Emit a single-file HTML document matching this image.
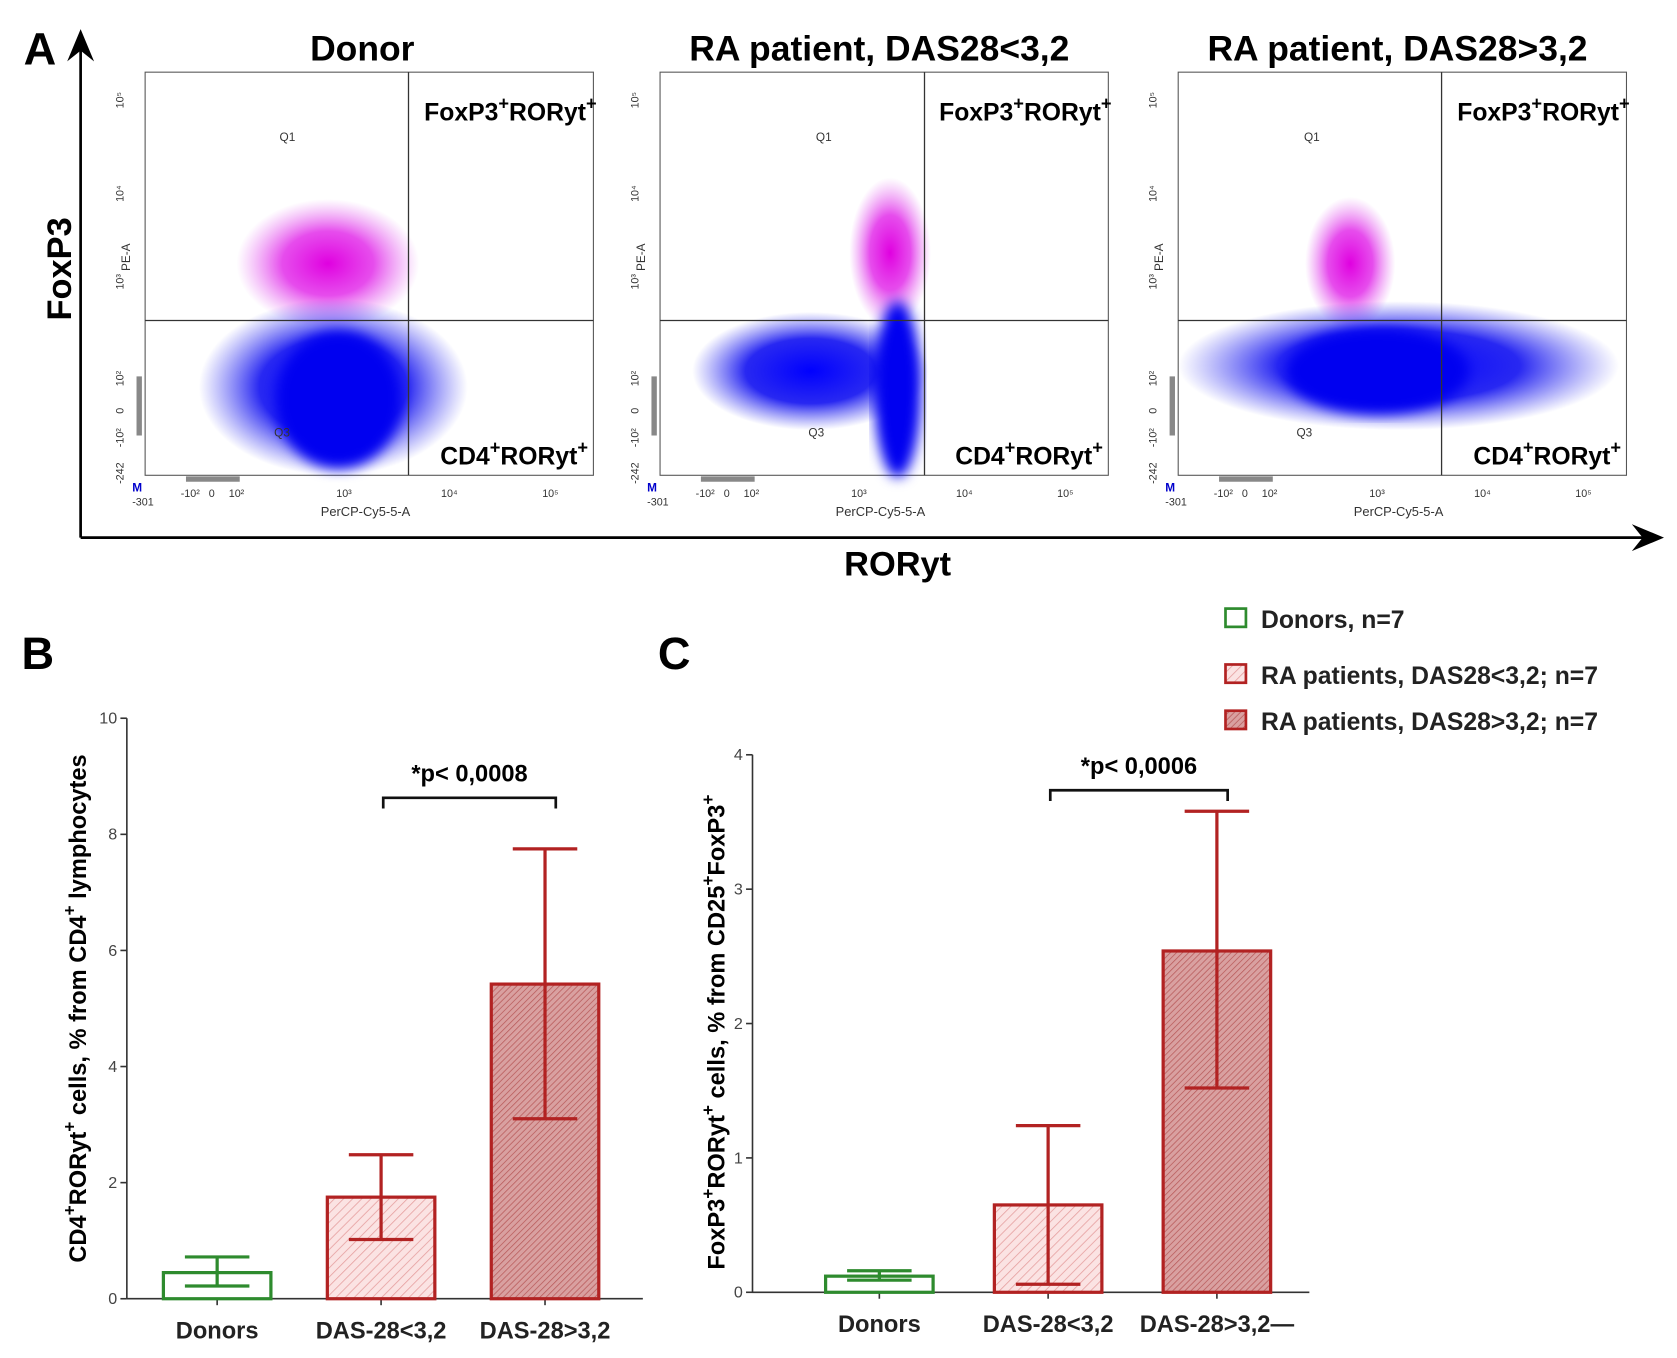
<!DOCTYPE html>
<html><head><meta charset="utf-8"><style>
html,body{margin:0;padding:0;background:#fff;}
svg{display:block;font-family:"Liberation Sans",Arial,sans-serif;}
.b{font-weight:bold;}
</style></head><body>
<svg id="fig" width="1677" height="1358" viewBox="0 0 1560 1263" xmlns="http://www.w3.org/2000/svg">
<defs>
<pattern id="hatchL" width="6" height="6" patternUnits="userSpaceOnUse" patternTransform="rotate(45)"><rect width="6" height="6" fill="#fbe3e3"/><line x1="0" y1="0" x2="0" y2="6" stroke="#e6a0a0" stroke-width="1.5"/></pattern>
<pattern id="hatchD" width="4" height="4" patternUnits="userSpaceOnUse" patternTransform="rotate(45)"><rect width="4" height="4" fill="#d9a0a0"/><line x1="0" y1="0" x2="0" y2="4" stroke="#b85a5a" stroke-width="1.4"/></pattern>
<radialGradient id="gBlue"><stop offset="0" stop-color="#0000ff" stop-opacity="1"/><stop offset="0.55" stop-color="#1010f0" stop-opacity="0.9"/><stop offset="1" stop-color="#3a3af0" stop-opacity="0"/></radialGradient>
<radialGradient id="gMag"><stop offset="0" stop-color="#e000e0" stop-opacity="1"/><stop offset="0.5" stop-color="#e020e8" stop-opacity="0.8"/><stop offset="1" stop-color="#e060f0" stop-opacity="0"/></radialGradient>
<filter id="soft"><feGaussianBlur stdDeviation="6"/></filter>
<marker id="arr" markerWidth="12" markerHeight="10" refX="10" refY="5" orient="auto"><path d="M0,0 L12,5 L0,10 L4,5 Z" fill="#000"/></marker>
</defs>

<text class="b" x="22" y="60" font-size="42">A</text>
<line x1="75" y1="500" x2="75" y2="32" stroke="#000" stroke-width="2.5" marker-end="url(#arr)"/>
<line x1="75" y1="500" x2="1543" y2="500" stroke="#000" stroke-width="2.5" marker-end="url(#arr)"/>
<text class="b" font-size="32" transform="translate(66,250) rotate(-90)" text-anchor="middle">FoxP3</text>
<text class="b" x="835" y="535" font-size="32" text-anchor="middle">RORyt</text>
<g id="flow"></g>

<text class="b" x="20" y="622" font-size="42">B</text>
<g id="chartB"></g>
<text class="b" x="612" y="622" font-size="42">C</text>
<g id="chartC"></g>

<g>
<rect x="1140" y="566" width="19" height="17" fill="#fff" stroke="#2e8b2e" stroke-width="2.5"/>
<text x="1173" y="584" font-size="23" class="b" fill="#222">Donors, n=7</text>
<rect x="1140" y="618" width="19" height="17" fill="url(#hatchL)" stroke="#b22222" stroke-width="2.5"/>
<text x="1173" y="636" font-size="23" class="b" fill="#222">RA patients, DAS28&lt;3,2; n=7</text>
<rect x="1140" y="661" width="19" height="17" fill="url(#hatchD)" stroke="#b22222" stroke-width="2.5"/>
<text x="1173" y="679" font-size="23" class="b" fill="#222">RA patients, DAS28&gt;3,2; n=7</text>
</g>

<script>
const NS="http://www.w3.org/2000/svg";
function mk(p,t,a,txt){const e=document.createElementNS(NS,t);for(const k in a)e.setAttribute(k,a[k]);if(txt!==undefined)e.textContent=txt;p.appendChild(e);return e;}
// parts: array of [string, isSup]
function rich(el,parts,sup){let up=false;parts.forEach(([s,isSup])=>{const a={};if(isSup&&!up){a.dy=-sup*0.6;a['font-size']=sup;up=true;}else if(!isSup&&up){a.dy=sup*0.6;up=false;}else if(isSup){a['font-size']=sup;}mk(el,'tspan',a,s);});}

const flowTitles=["Donor","RA patient, DAS28<3,2","RA patient, DAS28>3,2"];
const flowLeft=[135,614,1096];
const gateX=[380,860,1341];
const magClouds=[[170,245,85,60],[214,235,38,70],[160,245,42,62]];
const blueWide=[[175,360,125,82],[140,345,110,55],[205,340,205,60]];
const blueCore=[[180,372,58,64],[221,362,22,82],[185,345,85,40]];
const flow=document.getElementById('flow');
for(let i=0;i<3;i++){
  const L=flowLeft[i], g=mk(flow,'g',{});
  
  
  const t=mk(g,'text',{x:L+(i==0?202:204),y:56,'font-size':33,'text-anchor':'middle','class':'b'},flowTitles[i]);
  
  
  mk(g,'rect',{x:L,y:67,width:417,height:375,fill:'#fff',stroke:'#555','stroke-width':1});
  const m=magClouds[i],w=blueWide[i],c=blueCore[i];
  mk(g,'ellipse',{cx:L+m[0],cy:m[1],rx:m[2],ry:m[3],fill:'url(#gMag)'});
  mk(g,'ellipse',{cx:L+w[0],cy:w[1],rx:w[2],ry:w[3],fill:'url(#gBlue)'});
  mk(g,'ellipse',{cx:L+c[0],cy:c[1],rx:c[2],ry:c[3],fill:'#0000f0',filter:'url(#soft)'});
  mk(g,'line',{x1:L,y1:298,x2:L+417,y2:298,stroke:'#333','stroke-width':1.2});
  mk(g,'line',{x1:gateX[i],y1:67,x2:gateX[i],y2:442,stroke:'#333','stroke-width':1.2});
  mk(g,'text',{x:L+(i==0?125:(i==1?145:117)),y:131,'font-size':11,fill:'#333'},'Q1');
  mk(g,'text',{x:L+(i==0?120:(i==1?138:110)),y:406,'font-size':11,fill:'#333'},'Q3');
  const lab1=mk(g,'text',{x:L+420,y:112,'font-size':23,'text-anchor':'end','class':'b'});
  rich(lab1,[['FoxP3',0],['+',1],['RORyt',0],['+',1]],17);
  
  
  const lab2=mk(g,'text',{x:L+412,y:432,'font-size':23,'text-anchor':'end','class':'b'});
  rich(lab2,[['CD4',0],['+',1],['RORyt',0],['+',1]],17);
  
  
  mk(g,'text',{'font-size':11,fill:'#333',transform:`translate(${L-14},252) rotate(-90)`},'PE-A');
  [['10⁵',93],['10⁴',180],['10³',262],['10²',352],['0',382],['-10²',407],['-242',440]].forEach(([s,y])=>mk(g,'text',{'font-size':10,fill:'#333',transform:`translate(${L-20},${y}) rotate(-90)`,'text-anchor':'middle'},s));
  mk(g,'text',{x:L-12,y:457,'font-size':11,fill:'#00c','class':'b'},'M');
  mk(g,'text',{x:L-12,y:470,'font-size':10,fill:'#333'},'-301');
  [['-10²',42],['0',62],['10²',85],['10³',185],['10⁴',283],['10⁵',377]].forEach(([s,x])=>mk(g,'text',{x:L+x,y:462,'font-size':10,fill:'#333','text-anchor':'middle'},s));
  mk(g,'rect',{x:L+38,y:443,width:50,height:5,fill:'#888'});
  mk(g,'rect',{x:L-8,y:350,width:5,height:55,fill:'#888'});
  mk(g,'text',{x:L+205,y:480,'font-size':12,fill:'#333','text-anchor':'middle'},'PerCP-Cy5-5-A');
}

const categories=["Donors","DAS-28<3,2","DAS-28>3,2"];
const meansB=[0.45,1.75,5.42];
const lowB=[0.22,1.02,3.1];
const highB=[0.72,2.48,7.75];
const ticksB=[0,2,4,6,8,10];
const meansC=[0.12,0.65,2.54];
const lowC=[0.09,0.06,1.52];
const highC=[0.16,1.24,3.58];
const ticksC=[0,1,2,3,4];
const fills=['#fff','url(#hatchL)','url(#hatchD)'];
const strokes=['#2e8b2e','#b22222','#b22222'];

function barChart(gid,o){
  const g=document.getElementById(gid);
  const y=v=>o.y0-(v-o.min)/(o.max-o.min)*(o.y0-o.y1);
  const xs=i=>o.x0+o.first+i*o.step;
  mk(g,'line',{x1:o.x0,y1:o.y1,x2:o.x0,y2:o.y0,stroke:'#333','stroke-width':1.5});
  mk(g,'line',{x1:o.x0,y1:o.y0,x2:o.xEnd,y2:o.y0,stroke:'#333','stroke-width':1.5});
  o.ticks.forEach(t=>{
    mk(g,'line',{x1:o.x0-6,y1:y(t),x2:o.x0,y2:y(t),stroke:'#333','stroke-width':1.5});
    const tl=mk(g,'text',{x:o.x0-9,y:y(t)+5,'font-size':15,fill:'#444','text-anchor':'end'},String(t));
    
    
  });
  for(let i=0;i<3;i++){
    const cx=xs(i);
    mk(g,'line',{x1:cx,y1:o.y0,x2:cx,y2:o.y0+6,stroke:'#333','stroke-width':1.5});
    const bar=mk(g,'rect',{x:cx-50,y:y(o.means[i]),width:100,height:y(0)-y(o.means[i]),fill:fills[i],stroke:strokes[i],'stroke-width':3});
    
    
    const eb=mk(g,'path',{d:`M${cx},${y(o.low[i])}V${y(o.high[i])}M${cx-30},${y(o.high[i])}H${cx+30}M${cx-30},${y(o.low[i])}H${cx+30}`,stroke:strokes[i],'stroke-width':3,fill:'none'});
    
    
    const cl=mk(g,'text',{x:cx,y:o.y0+37,'font-size':22,'text-anchor':'middle','class':'b',fill:'#222'},categories[i]+(o.dash&&i==2?'—':''));
    
    
  }
  const bx1=xs(1)+2,bx2=xs(2)+10;
  const br=mk(g,'path',{d:`M${bx1},${o.brY+10}V${o.brY}H${bx2}V${o.brY+10}`,stroke:'#111','stroke-width':2.5,fill:'none'});
  
  
  const pt=mk(g,'text',{x:(bx1+bx2)/2,y:o.brY-15,'font-size':22,'text-anchor':'middle','class':'b'},o.p);
  
  
  const yt=mk(g,'text',{'font-size':22,'class':'b','text-anchor':'middle',transform:`translate(${o.titleX},${o.titleY}) rotate(-90)`});
  rich(yt,o.title,16);
  
  
}
barChart('chartB',{x0:118,xEnd:598,y0:1208,y1:668,min:0,max:10,first:84,step:152.5,ticks:ticksB,means:meansB,low:lowB,high:highB,brY:742,p:'*p< 0,0008',titleX:80,titleY:938,
 title:[['CD4',0],['+',1],['RORyt',0],['+',1],[' cells, % from CD4',0],['+',1],[' lymphocytes',0]]});
barChart('chartC',{x0:700,xEnd:1218,y0:1202,y1:702,min:0,max:4,first:118,step:157,ticks:ticksC,means:meansC,low:lowC,high:highC,brY:735,p:'*p< 0,0006',titleX:674,titleY:960,dash:true,
 title:[['FoxP3',0],['+',1],['RORyt',0],['+',1],[' cells, % from CD25',0],['+',1],['FoxP3',0],['+',1]]});
</script>
</svg>
</body></html>
